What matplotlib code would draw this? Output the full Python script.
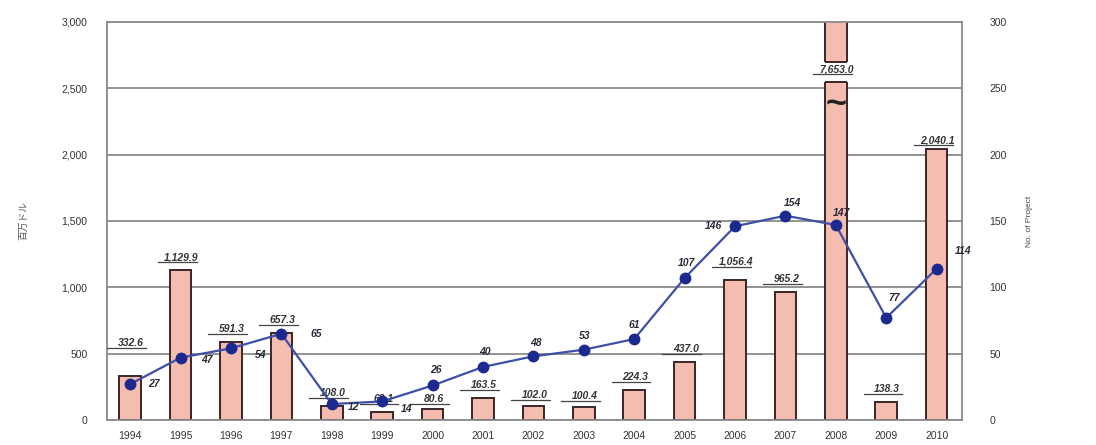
import matplotlib
matplotlib.use("Agg")
import matplotlib.pyplot as plt
import matplotlib.transforms as mtransforms
from matplotlib.patches import Rectangle
from matplotlib.ticker import FuncFormatter, MultipleLocator

plt.rcParams["font.family"] = ["Liberation Sans", "Noto Sans CJK JP", "DejaVu Sans"]

# 投資額（百万ドル）とプロジェクト件数
years = ["1994", "1995", "1996", "1997", "1998", "1999", "2000", "2001", "2002",
         "2003", "2004", "2005", "2006", "2007", "2008", "2009", "2010"]
amount = [332.6, 1129.9, 591.3, 657.3, 108.0, 62.1, 80.6, 163.5, 102.0,
          100.4, 224.3, 437.0, 1056.4, 965.2, 7653.0, 138.3, 2040.1]
projects = [27, 47, 54, 65, 12, 14, 26, 40, 48, 53, 61, 107, 146, 154, 147, 77, 114]

# 件数ラベルのずらし量（ピクセル）
count_offsets = [(24, 0), (26, -2), (30, -7), (35, 0), (22, -3), (24, -8),
                 (3, 15), (2, 15), (3, 13), (1, 14), (0, 14), (2, 15),
                 (-22, 0), (7, 13), (6, 12), (8, 20), (26, 18)]
# 金額ラベルの追加の高さ（ピクセル）
amount_lift = [20, 0, 0, 0, 0, 0, -3, 0, -2, -2, 0, 0, 5, 0, 0, 0, -4]

BAR_FACE = "#f5bcb0"
BAR_EDGE = "#3a2626"
LINE_COLOR = "#3d4fa6"
MARKER_COLOR = "#1c2a8f"
TEXT_COLOR = "#333333"

fig = plt.figure(figsize=(10.96, 4.45), dpi=100)
ax = fig.add_axes([0.0976, 0.0562, 0.78, 0.8944])
x = list(range(len(years)))

ax.set_xlim(-0.46, len(years) - 0.5)
ax.set_ylim(0, 3000)
ax.yaxis.set_major_locator(MultipleLocator(500))
ax.yaxis.set_major_formatter(FuncFormatter(lambda v, p: f"{v:,.0f}"))
ax.grid(axis="y", color="#8a8a8a", linewidth=1.3)
ax.set_axisbelow(True)
for side in ["left", "right", "top", "bottom"]:
    ax.spines[side].set_color("#8a8a8a")
    ax.spines[side].set_linewidth(1.3)
ax.tick_params(axis="both", length=0, labelsize=7.5, colors=TEXT_COLOR)
ax.tick_params(axis="y", pad=14)
ax.tick_params(axis="x", pad=8)
ax.set_xticks(x)
ax.set_xticklabels(years)
ax.set_ylabel("百万ドル", fontsize=7, color="#555555", labelpad=24)

bars = ax.bar(x, amount, width=0.43, color=BAR_FACE, edgecolor=BAR_EDGE,
              linewidth=1.4, zorder=2)

# 2008年の棒は軸を超えるので途中を省略する
i08 = years.index("2008")
gap_lo, gap_hi = 2545, 2700
ax.add_patch(Rectangle((i08 - 0.3, gap_lo), 0.6, gap_hi - gap_lo,
                       facecolor="white", edgecolor="none", zorder=3))
ax.hlines([gap_lo, gap_hi], i08 - 0.215, i08 + 0.215, color=BAR_EDGE,
          linewidth=1.4, zorder=4)
ax.text(i08, 2380, "~", ha="center", va="center", fontsize=26,
        fontweight="bold", color="#222222", zorder=6)

# 金額ラベル（下線付き）
for i, v in enumerate(amount):
    top = min(v, gap_lo)
    lift = 8 + amount_lift[i]
    tr = mtransforms.offset_copy(ax.transData, fig=fig, x=0, y=lift, units="dots")
    ax.text(i + 0.02, top, f"{v:,.1f}", transform=tr, ha="center", va="bottom",
            fontsize=7.5, fontstyle="italic", fontweight="bold",
            color=TEXT_COLOR, zorder=7,
            bbox=dict(facecolor="white", edgecolor="none", pad=0.4) if i == i08 else None)
    ax.plot([i - 0.45, i + 0.32], [top, top], transform=tr, color="#444444",
            linewidth=0.9, zorder=7)

# プロジェクト件数（右軸）
ax2 = ax.twinx()
ax2.set_ylim(0, 300)
ax2.yaxis.set_major_locator(MultipleLocator(50))
ax2.tick_params(axis="y", length=0, labelsize=7.5, colors=TEXT_COLOR, pad=20)
for side in ["left", "right", "top", "bottom"]:
    ax2.spines[side].set_visible(False)
ax2.set_ylabel("No. of Project", fontsize=6, color="#444444", labelpad=14)

ax2.plot(x, projects, color=LINE_COLOR, linewidth=1.6, marker="o",
         markersize=7.5, markerfacecolor=MARKER_COLOR,
         markeredgecolor=MARKER_COLOR, zorder=5)
for i, n in enumerate(projects):
    dx, dy = count_offsets[i]
    ax2.annotate(str(n), (i, n), xytext=(dx, dy), textcoords="offset pixels",
                 ha="center", va="center", fontsize=7.5, fontstyle="italic",
                 fontweight="bold", color="#2a2a3a", zorder=8)

fig.savefig("out.png", dpi=100)
